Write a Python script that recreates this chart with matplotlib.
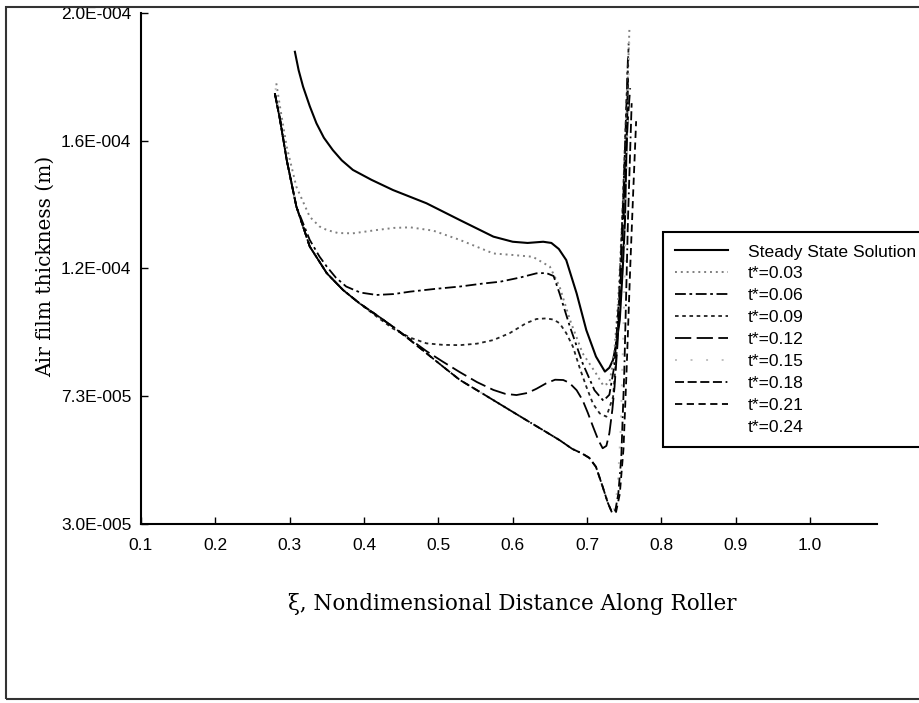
import numpy as np
import matplotlib
matplotlib.use("Agg")
import matplotlib.pyplot as plt
from matplotlib.patches import Rectangle

# air film thickness values, in units of 1e-5 m
xi_steady = [0.307, 0.312, 0.318, 0.327, 0.336, 0.346, 0.358, 0.370, 0.385, 0.410,
             0.439, 0.484, 0.529, 0.574, 0.600, 0.620, 0.641, 0.652, 0.662, 0.672,
             0.686, 0.699, 0.712, 0.724, 0.730, 0.735, 0.740, 0.744, 0.748, 0.751,
             0.753, 0.755]
h_steady = [18.71, 18.10, 17.55, 16.90, 16.33, 15.85, 15.44, 15.10, 14.78, 14.45,
            14.11, 13.67, 13.11, 12.56, 12.39, 12.35, 12.39, 12.35, 12.15, 11.78,
            10.67, 9.45, 8.57, 8.07, 8.20, 8.46, 9.10, 9.79, 11.50, 13.11,
            15.50, 17.80]

xi_t003 = [0.282, 0.287, 0.296, 0.309, 0.327, 0.340, 0.350, 0.365, 0.385, 0.417,
           0.440, 0.462, 0.493, 0.529, 0.574, 0.600, 0.627, 0.650, 0.663, 0.677,
           0.694, 0.712, 0.722, 0.730, 0.736, 0.742, 0.748, 0.753, 0.757]
h_t003 = [17.66, 16.88, 15.55, 14.22, 13.22, 12.90, 12.78, 12.68, 12.67, 12.78,
          12.85, 12.87, 12.76, 12.45, 12.00, 11.95, 11.89, 11.56, 10.90, 9.79,
          8.68, 8.01, 7.60, 7.70, 8.50, 10.50, 13.50, 16.50, 19.50]

xi_t006 = [0.280, 0.287, 0.296, 0.309, 0.327, 0.340, 0.350, 0.362, 0.376, 0.395,
           0.417, 0.440, 0.462, 0.495, 0.529, 0.560, 0.583, 0.610, 0.632, 0.645,
           0.655, 0.663, 0.677, 0.694, 0.710, 0.722, 0.730, 0.737, 0.743, 0.749,
           0.755]
h_t006 = [17.33, 16.50, 15.11, 13.56, 12.45, 11.90, 11.56, 11.20, 10.90, 10.70,
          10.62, 10.65, 10.73, 10.82, 10.90, 11.00, 11.06, 11.20, 11.34, 11.35,
          11.25, 10.67, 9.56, 8.35, 7.45, 7.10, 7.30, 8.30, 10.50, 14.00,
          18.50]

xi_t009 = [0.280, 0.287, 0.296, 0.309, 0.327, 0.350, 0.372, 0.394, 0.417, 0.439,
           0.462, 0.484, 0.506, 0.529, 0.552, 0.574, 0.596, 0.618, 0.632, 0.645,
           0.655, 0.663, 0.672, 0.681, 0.690, 0.699, 0.708, 0.717, 0.726, 0.735,
           0.740, 0.744, 0.750, 0.756]
h_t009 = [17.33, 16.44, 15.11, 13.56, 12.23, 11.34, 10.78, 10.34, 9.90, 9.50,
          9.20, 9.01, 8.96, 8.95, 9.00, 9.12, 9.35, 9.68, 9.82, 9.84,
          9.80, 9.68, 9.35, 8.90, 8.20, 7.57, 7.00, 6.68, 6.57, 7.23,
          8.80, 10.90, 15.00, 19.00]

xi_t012 = [0.280, 0.287, 0.296, 0.309, 0.327, 0.350, 0.372, 0.394, 0.439, 0.484,
           0.506, 0.529, 0.552, 0.574, 0.590, 0.605, 0.620, 0.632, 0.645, 0.657,
           0.668, 0.676, 0.686, 0.694, 0.701, 0.708, 0.715, 0.721, 0.726, 0.730,
           0.734, 0.737, 0.741, 0.745, 0.750, 0.755, 0.758]
h_t012 = [17.33, 16.44, 15.11, 13.56, 12.23, 11.34, 10.78, 10.34, 9.56, 8.75,
          8.40, 8.05, 7.72, 7.46, 7.33, 7.29, 7.36, 7.50, 7.68, 7.80,
          7.79, 7.70, 7.45, 7.12, 6.70, 6.24, 5.80, 5.52, 5.60, 6.02,
          6.80, 7.57, 9.00, 11.00, 14.00, 16.50, 17.50]

xi_t015 = [0.281, 0.287, 0.296, 0.309, 0.327, 0.350, 0.372, 0.394, 0.417, 0.439,
           0.462, 0.484, 0.506, 0.529, 0.552, 0.574, 0.596, 0.618, 0.641, 0.663,
           0.680, 0.693, 0.703, 0.712, 0.721, 0.728, 0.733, 0.737, 0.741, 0.745,
           0.749, 0.753, 0.757]
h_t015 = [17.50, 16.44, 15.11, 13.56, 12.23, 11.34, 10.78, 10.34, 9.95, 9.56,
          9.12, 8.68, 8.24, 7.79, 7.45, 7.12, 6.79, 6.46, 6.12, 5.79,
          5.50, 5.35, 5.20, 4.90, 4.24, 3.70, 3.45, 3.50, 4.20, 6.00,
          9.50, 14.50, 19.30]

xi_t018 = [0.280, 0.287, 0.296, 0.309, 0.327, 0.350, 0.372, 0.394, 0.417, 0.439,
           0.462, 0.484, 0.506, 0.529, 0.552, 0.574, 0.596, 0.618, 0.641, 0.663,
           0.680, 0.693, 0.703, 0.712, 0.721, 0.728, 0.733, 0.738, 0.742, 0.746,
           0.750, 0.755, 0.760]
h_t018 = [17.33, 16.44, 15.11, 13.56, 12.23, 11.34, 10.78, 10.34, 9.95, 9.56,
          9.12, 8.68, 8.24, 7.79, 7.45, 7.12, 6.79, 6.46, 6.12, 5.79,
          5.50, 5.35, 5.20, 4.90, 4.24, 3.70, 3.42, 3.45, 4.00, 5.20,
          8.00, 13.10, 17.00]

xi_t021 = [0.280, 0.287, 0.296, 0.309, 0.327, 0.350, 0.372, 0.394, 0.417, 0.439,
           0.462, 0.484, 0.506, 0.529, 0.552, 0.574, 0.596, 0.618, 0.641, 0.663,
           0.680, 0.693, 0.703, 0.712, 0.721, 0.728, 0.734, 0.739, 0.744, 0.749,
           0.753, 0.758, 0.762, 0.766]
h_t021 = [17.33, 16.44, 15.11, 13.56, 12.23, 11.34, 10.78, 10.34, 9.95, 9.56,
          9.12, 8.68, 8.24, 7.79, 7.45, 7.12, 6.79, 6.46, 6.12, 5.79,
          5.50, 5.35, 5.20, 4.90, 4.24, 3.70, 3.35, 3.40, 4.00, 5.50,
          8.00, 11.50, 14.00, 16.40]

xi_t024 = xi_t018
h_t024 = h_t018

series_labels = ["Steady State Solution", "t*=0.03", "t*=0.06", "t*=0.09", "t*=0.12",
                 "t*=0.15", "t*=0.18", "t*=0.21", "t*=0.24"]

x_ticks = [0.1, 0.2, 0.3, 0.4, 0.5, 0.6, 0.7, 0.8, 0.9, 1.0]
y_ticks = [3.0e-5, 7.25e-5, 1.15e-4, 1.575e-4, 2.0e-4]
y_tick_labels = ["3.0E-005", "7.3E-005", "1.2E-004", "1.6E-004", "2.0E-004"]

plt.rcParams['font.family'] = ['Liberation Sans', 'DejaVu Sans']

fig = plt.figure(figsize=(9.2, 7.03), dpi=100)
ax = fig.add_axes([141 / 920, 1 - 524 / 703, 736 / 920, 511 / 703])

series = [
    (xi_steady, h_steady, dict(color='black', linestyle='-', linewidth=1.5)),
    (xi_t003, h_t003, dict(color='#808080', linestyle=(0, (1, 2)), linewidth=1.4)),
    (xi_t006, h_t006, dict(color='black', linestyle=(0, (6, 2, 1.5, 2)), linewidth=1.3)),
    (xi_t009, h_t009, dict(color='#222222', linestyle=(0, (2, 2)), linewidth=1.3)),
    (xi_t012, h_t012, dict(color='black', linestyle=(0, (9, 3)), linewidth=1.3)),
    (xi_t015, h_t015, dict(color='#c0c0c0', linestyle=(0, (1, 7)), linewidth=1.4)),
    (xi_t018, h_t018, dict(color='black', linestyle=(0, (5, 2, 5, 2, 5, 2, 5, 2, 1, 2)), linewidth=1.3)),
    (xi_t021, h_t021, dict(color='black', linestyle=(0, (4, 2.5)), linewidth=1.3)),
    (xi_t024, h_t024, dict(color='black', linestyle='None')),
]

for (xs, hs, style), label in zip(series, series_labels):
    ax.plot(xs, np.array(hs) * 1e-5, label=label, **style)

ax.set_xlim(0.1, 1.09)
ax.set_ylim(3.0e-5, 2.0e-4)
ax.set_xticks(x_ticks)
ax.set_xticklabels([f"{v:.1f}" for v in x_ticks])
ax.set_yticks(y_ticks)
ax.set_yticklabels(y_tick_labels)
ax.tick_params(axis='both', direction='in', length=5, width=1, labelsize=12.5)
ax.tick_params(axis='x', pad=10)
ax.tick_params(axis='y', pad=7)

for side in ['top', 'right']:
    ax.spines[side].set_visible(False)
for side in ['left', 'bottom']:
    ax.spines[side].set_linewidth(1.5)

fig.text(45 / 920, 1 - 266 / 703, "Air film thickness (m)", rotation=90,
         ha='center', va='center', family='DejaVu Serif', fontsize=14.5)
fig.text(512 / 920, 1 - 604 / 703, "ξ, Nondimensional Distance Along Roller",
         ha='center', va='center', family='DejaVu Serif', fontsize=15.5)

leg = ax.legend(loc='upper left', bbox_to_anchor=(663 / 920, 1 - 232 / 703),
                bbox_transform=fig.transFigure, borderaxespad=0, fontsize=12.6,
                handlelength=3.0, handletextpad=1.15, labelspacing=0.38,
                borderpad=0.7, fancybox=False, framealpha=1)
leg.get_frame().set_edgecolor('black')
leg.get_frame().set_linewidth(1.5)

# outer frame around the picture
fig.patches.append(Rectangle((6 / 920, 1 - 699 / 703), 930 / 920, 692 / 703,
                             transform=fig.transFigure, fill=False,
                             edgecolor='#333333', linewidth=1.5))

fig.savefig('out.png', dpi=100)
